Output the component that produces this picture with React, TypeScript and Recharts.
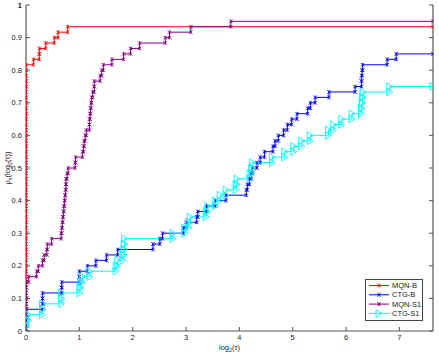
import React from "react";
import { LineChart, Line, XAxis, YAxis, ReferenceLine } from "recharts";

// performance profile, 60 test problems
const N_PROBLEMS = 60;
const X_MAX = 7.63;

const xTicks = [0, 1, 2, 3, 4, 5, 6, 7];
const yTicks = [0, 0.1, 0.2, 0.3, 0.4, 0.5, 0.6, 0.7, 0.8, 0.9, 1];

// log2 ratios where problems get solved, and how many at each ratio
const mqnBRatios = [0, 0.14, 0.25, 0.37, 0.53, 0.6, 0.78];
const mqnBCounts = [49, 1, 2, 1, 1, 1, 1];

const ctgBRatios = [
  0, 0.31, 0.67, 1.0, 1.15, 1.31, 1.51, 1.72, 2.38, 2.51, 2.56, 2.95, 3.0, 3.2,
  3.22, 3.38, 3.55, 3.75, 4.13, 4.15, 4.19, 4.22, 4.25, 4.33, 4.39, 4.47, 4.63,
  4.67, 4.73, 4.83, 4.9, 4.98, 5.08, 5.28, 5.33, 5.42, 5.68, 6.17, 6.29, 6.3,
  6.31, 6.77, 6.94,
];
const ctgBCounts = [
  4, 3, 2, 2, 1, 1, 1, 1, 1, 1, 1, 1, 1, 1, 1, 1, 1, 1, 1, 1, 1, 1, 1, 1, 1, 1,
  1, 1, 1, 1, 1, 1, 1, 1, 1, 1, 1, 1, 2, 1, 1, 1, 1,
];

const mqnS1Ratios = [
  0, 0.05, 0.2, 0.23, 0.31, 0.34, 0.39, 0.4, 0.48, 0.66, 0.67, 0.68, 0.69, 0.7,
  0.71, 0.72, 0.73, 0.74, 0.75, 0.77, 0.79, 0.92, 0.93, 1.06, 1.08, 1.09, 1.11,
  1.13, 1.19, 1.2, 1.21, 1.22, 1.23, 1.25, 1.28, 1.39, 1.42, 1.45, 1.61, 1.83,
  1.96, 2.13, 2.61, 2.69, 3.09, 3.84,
];
const mqnS1Counts = [
  9, 1, 1, 1, 1, 1, 1, 1, 1, 1, 1, 1, 1, 1, 1, 1, 1, 1, 2, 1, 1, 1, 1, 1, 1, 1,
  1, 1, 2, 1, 1, 1, 1, 1, 2, 1, 1, 1, 1, 1, 1, 1, 1, 1, 1, 1,
];

const ctgS1Ratios = [
  0, 0.02, 0.05, 0.31, 0.67, 1.01, 1.03, 1.06, 1.2, 1.69, 1.72, 1.82, 1.84,
  1.85, 2.76, 2.98, 3.05, 3.08, 3.38, 3.41, 3.55, 3.64, 3.75, 3.94, 3.96, 4.2,
  4.23, 4.25, 4.62, 4.85, 5.02, 5.17, 5.33, 5.67, 5.77, 5.92, 6.11, 6.29, 6.3,
  6.31, 6.32, 6.82,
];
const ctgS1Counts = [
  1, 1, 1, 2, 2, 1, 1, 1, 1, 1, 1, 1, 2, 1, 1, 1, 1, 1, 1, 1, 1, 1, 1, 1, 1, 1,
  1, 1, 1, 1, 1, 1, 1, 1, 1, 1, 1, 1, 1, 1, 1, 1,
];

// stairs vertices (both corners of every step), like the matlab perf profile
const buildStairs = (ratios: number[], counts: number[]) => {
  const pts: { x: number; y: number }[] = [];
  let solved = 0;
  ratios.forEach((r, i) => {
    for (let k = 0; k < counts[i]; k++) {
      pts.push({ x: r, y: solved / N_PROBLEMS });
      solved += 1;
      pts.push({ x: r, y: solved / N_PROBLEMS });
    }
  });
  pts.push({ x: X_MAX, y: solved / N_PROBLEMS });
  return pts;
};

const series = [
  { name: "MQN-B", color: "#ff0000", marker: "star", data: buildStairs(mqnBRatios, mqnBCounts) },
  { name: "CTG-B", color: "#0000ff", marker: "star", data: buildStairs(ctgBRatios, ctgBCounts) },
  { name: "MQN-S1", color: "#800080", marker: "star", data: buildStairs(mqnS1Ratios, mqnS1Counts) },
  { name: "CTG-S1", color: "#00ffff", marker: "tri", data: buildStairs(ctgS1Ratios, ctgS1Counts) },
];

const FONT = "'Liberation Sans', Arial, sans-serif";
const AXIS = "#555";
const TICK_LEN_X = 0.075; // inward tick length on the right border, in x units

const Marker = ({ cx, cy, color, kind }: { cx: number; cy: number; color: string; kind: string }) => {
  if (kind === "tri") {
    return (
      <polygon
        points={`${cx + 3},${cy} ${cx - 3},${cy - 3.8} ${cx - 3},${cy + 3.8}`}
        fill="none"
        stroke={color}
        strokeWidth={0.9}
      />
    );
  }
  const r = 1.8;
  return (
    <g stroke={color} strokeWidth={0.8}>
      <line x1={cx - r} y1={cy - r} x2={cx + r} y2={cy + r} />
      <line x1={cx - r} y1={cy + r} x2={cx + r} y2={cy - r} />
      <line x1={cx} y1={cy - r} x2={cx} y2={cy + r} />
    </g>
  );
};

const BottomTick = (p: any) => (
  <g>
    <line x1={p.x} y1={p.y} x2={p.x} y2={p.y - 4} stroke={AXIS} />
    <text x={p.x} y={p.y + 9} textAnchor="middle" fontSize={7.5} fontFamily={FONT} fill="#222">
      {p.payload.value}
    </text>
  </g>
);
const TopTick = (p: any) => <line x1={p.x} y1={p.y} x2={p.x} y2={p.y + 4} stroke={AXIS} />;
const LeftTick = (p: any) => (
  <g>
    <line x1={p.x} y1={p.y} x2={p.x + 4} y2={p.y} stroke={AXIS} />
    <text x={p.x - 4} y={p.y + 2.6} textAnchor="end" fontSize={7.5} fontFamily={FONT} fill="#222">
      {String(p.payload.value)}
    </text>
  </g>
);

// the top y label kept going missing inside the chart svg, so it sits in the overlay
const TopCornerLabel = () => (
  <svg width={26} height={12} style={{ position: "absolute", left: 0, top: 0 }}>
    <text x={22} y={7.6} textAnchor="end" fontSize={7.5} fontFamily={FONT} fill="#222">
      {String(yTicks[yTicks.length - 1])}
    </text>
  </svg>
);

const LegendBox = () => (
  <svg width={58} height={42} style={{ position: "absolute", left: 365, top: 279 }}>
    <rect x={0.5} y={0.5} width={57} height={41} fill="#fff" stroke="#444" />
    {series.map((s, i) => {
      const y = 6.5 + i * 9.3;
      return (
        <g key={s.name}>
          <line x1={4} y1={y} x2={24} y2={y} stroke={s.color} strokeWidth={1} />
          <Marker cx={14} cy={y} color={s.color} kind={s.marker} />
          <text x={27} y={y + 2.6} fontSize={7.5} fontFamily={FONT} fill="#222">
            {s.name}
          </text>
        </g>
      );
    })}
  </svg>
);

const App = () => {
  return (
    <div style={{ position: "absolute", left: 0, top: 0, width: 439, height: 355, background: "#fff" }}>
      <LineChart width={439} height={355} margin={{ top: 5, right: 6, left: 0, bottom: 0 }}>
        <XAxis
          xAxisId="b"
          dataKey="x"
          type="number"
          domain={[0, X_MAX]}
          ticks={xTicks}
          interval={0}
          height={24}
          tickSize={0}
          tickMargin={0}
          tickLine={false}
          stroke={AXIS}
          strokeWidth={1.2}
          tick={BottomTick}
          allowDataOverflow
          label={{
            content: () => (
              <text x={229.5} y={350} textAnchor="middle" fontSize={7.5} fontFamily={FONT} fill="#222">
                log<tspan dy={2} fontSize={5.5}>2</tspan>
                <tspan dy={-2}>(τ)</tspan>
              </text>
            ),
          }}
        />
        <XAxis
          xAxisId="t"
          orientation="top"
          type="number"
          domain={[0, X_MAX]}
          ticks={xTicks}
          interval={0}
          height={0}
          tickSize={0}
          tickMargin={0}
          tickLine={false}
          stroke={AXIS}
          strokeWidth={1.2}
          tick={TopTick}
          allowDataOverflow
        />
        <YAxis
          yAxisId="l"
          type="number"
          domain={[0, 1]}
          ticks={yTicks}
          interval={0}
          width={26}
          tickSize={0}
          tickMargin={0}
          tickLine={false}
          stroke={AXIS}
          strokeWidth={1.2}
          tick={LeftTick}
          allowDataOverflow
          label={{
            content: () => (
              <text
                x={10}
                y={168}
                transform="rotate(-90, 10, 168)"
                textAnchor="middle"
                fontSize={7.5}
                fontFamily={FONT}
                fill="#222"
              >
                ρ<tspan dy={2} fontSize={5.5}>s</tspan>
                <tspan dy={-2}>(log</tspan>
                <tspan dy={2} fontSize={5.5}>2</tspan>
                <tspan dy={-2}>(τ))</tspan>
              </text>
            ),
          }}
        />
        {/* right border of the box with inward ticks */}
        <ReferenceLine xAxisId="b" yAxisId="l" x={X_MAX} stroke={AXIS} strokeWidth={1.2} />
        {yTicks.map((v) => (
          <ReferenceLine
            key={`rt-${v}`}
            xAxisId="b"
            yAxisId="l"
            segment={[{ x: X_MAX, y: v }, { x: X_MAX - TICK_LEN_X, y: v }]}
            stroke={AXIS}
            strokeWidth={1}
          />
        ))}
        {series.map((s) => (
          <Line
            key={s.name}
            xAxisId="b"
            yAxisId="l"
            data={s.data}
            dataKey="y"
            type="linear"
            stroke={s.color}
            strokeWidth={1}
            isAnimationActive={false}
            dot={(p: any) => <Marker key={`${s.name}-${p.index}`} cx={p.cx} cy={p.cy} color={s.color} kind={s.marker} />}
            activeDot={false}
          />
        ))}
      </LineChart>
      <TopCornerLabel />
      <LegendBox />
    </div>
  );
};

export default App;
